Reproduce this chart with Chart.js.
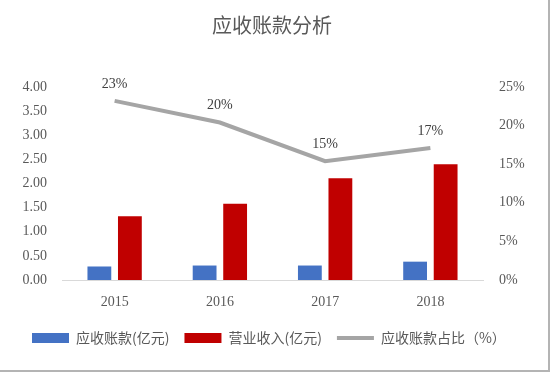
<!DOCTYPE html>
<html>
<head>
<meta charset="utf-8">
<script src="https://cdn.jsdelivr.net/npm/chart.js@4.4.1/dist/chart.umd.min.js"></script>
<style>
  html, body { margin: 0; padding: 0; background: #fff; }
  #wrap { width: 548px; height: 370px; border-right: 2px solid #b4b4b4; border-bottom: 2px solid #b4b4b4; }
</style>
</head>
<body>
<div id="wrap"><canvas id="chart" width="548" height="370"></canvas></div>
<script>
const years = ['2015', '2016', '2017', '2018'];
const receivables = [0.28, 0.30, 0.30, 0.38];   // 应收账款(亿元)
const revenue = [1.32, 1.58, 2.11, 2.40];       // 营业收入(亿元)
const ratio = [23.2, 20.4, 15.4, 17.1];         // 应收账款占比 (%)

const serif = "'Liberation Serif', 'Noto Sans CJK SC', serif";
const cjk = "'Noto Sans CJK SC', 'Liberation Serif', sans-serif";
const textColor = '#595959';

// labels above the line points
const lineLabels = {
    id: 'lineLabels',
    afterDatasetsDraw(chart) {
        const meta = chart.getDatasetMeta(2);
        const c = chart.ctx;
        c.save();
        c.font = '14px ' + serif;
        c.fillStyle = '#404040';
        c.textAlign = 'center';
        c.textBaseline = 'middle';
        meta.data.forEach((pt, i) => {
            c.fillText(Math.round(ratio[i]) + '%', pt.x, pt.y - 17);
        });
        c.restore();
    }
};

const ctx = document.getElementById('chart').getContext('2d');
const chart = new Chart(ctx, {
    type: 'bar',
    data: {
        labels: years,
        datasets: [{
            label: '应收账款(亿元)',
            data: receivables,
            backgroundColor: '#4472C4',
            yAxisID: 'y'
        }, {
            label: '营业收入(亿元)',
            data: revenue,
            backgroundColor: '#C00000',
            yAxisID: 'y'
        }, {
            type: 'line',
            label: '应收账款占比（%）',
            data: ratio,
            borderColor: '#A5A5A5',
            backgroundColor: '#A5A5A5',
            borderWidth: 4,
            pointRadius: 0,
            tension: 0,
            yAxisID: 'y1'
        }]
    },
    options: {
        responsive: false,
        animation: false,
        layout: { padding: { left: 17, right: 21, top: 0, bottom: 15 } },
        datasets: { bar: { categoryPercentage: 0.58, barPercentage: 0.78 } },
        scales: {
            x: {
                grid: { display: false, drawTicks: false },
                border: { display: true, color: '#D9D9D9', width: 1 },
                ticks: { color: textColor, font: { family: serif, size: 14 }, padding: 14 },
                afterFit(s) { s.height = 36; }
            },
            y: {
                position: 'left',
                min: 0, max: 4,
                grid: { display: false, drawTicks: false },
                border: { display: false },
                ticks: { stepSize: 0.5, color: textColor, font: { family: serif, size: 14 }, padding: 15,
                    callback: v => v.toFixed(2) },
                afterFit(s) { s.width = 45; }
            },
            y1: {
                position: 'right',
                min: 0, max: 25,
                grid: { display: false, drawTicks: false },
                border: { display: false },
                ticks: { stepSize: 5, color: textColor, font: { family: serif, size: 14 }, padding: 16,
                    callback: v => v + '%' },
                afterFit(s) { s.width = 44; }
            }
        },
        plugins: {
            title: {
                display: true,
                text: '应收账款分析',
                color: textColor,
                font: { family: cjk, size: 20, weight: 'normal' },
                padding: { top: 13, bottom: 50 }
            },
            legend: {
                position: 'bottom',
                align: 'start',
                labels: {
                    color: textColor,
                    font: { family: cjk, size: 14 },
                    padding: 15,
                    usePointStyle: true,
                    pointStyleWidth: 37,
                    boxHeight: 10,
                    generateLabels(chart) {
                        const items = Chart.defaults.plugins.legend.labels.generateLabels(chart);
                        items.forEach(it => {
                            if (it.datasetIndex === 2) {
                                it.pointStyle = 'line';
                                it.strokeStyle = '#A5A5A5';
                                it.lineWidth = 4;
                            } else {
                                it.pointStyle = 'rect';
                                it.lineWidth = 0;
                            }
                        });
                        return items;
                    }
                }
            },
            tooltip: { enabled: false }
        }
    },
    plugins: [lineLabels]
});
</script>
</body>
</html>
